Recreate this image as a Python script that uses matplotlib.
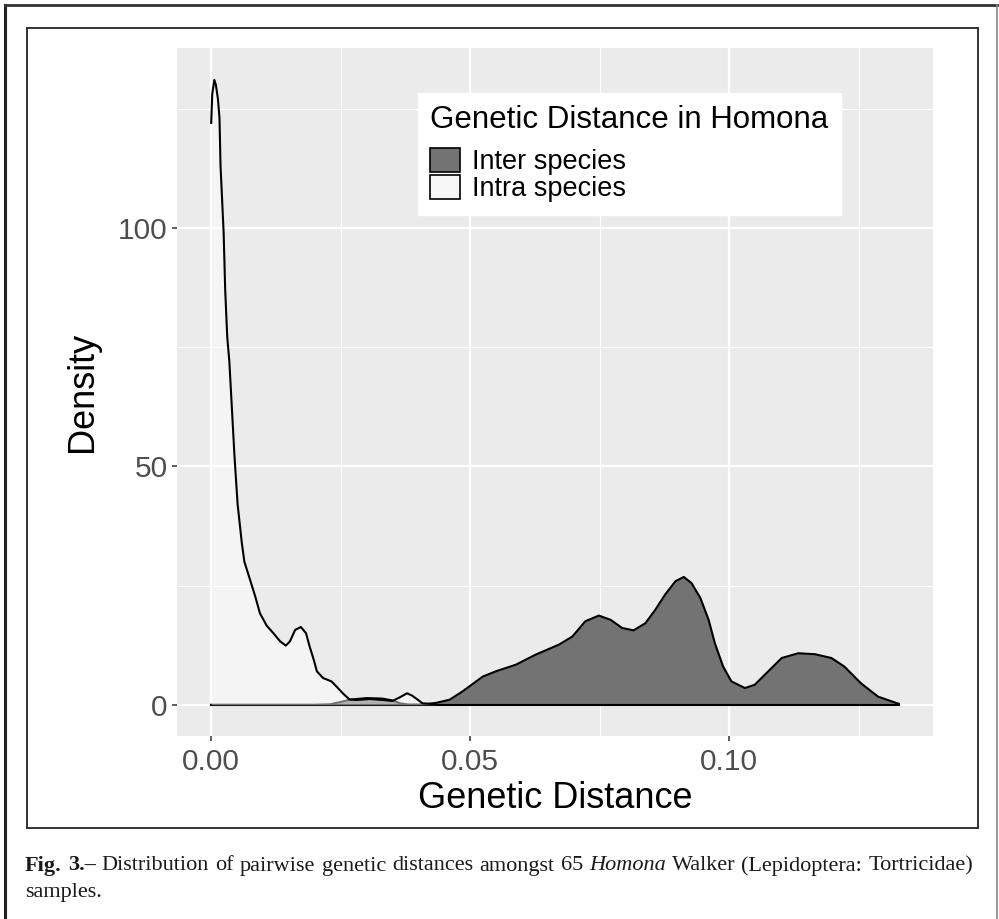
import matplotlib
matplotlib.use("Agg")
import matplotlib.pyplot as plt
from matplotlib.patches import Patch, Rectangle
from matplotlib.lines import Line2D

# density curves
intra_x = [0, 0.0002, 0.0006, 0.0009, 0.0013, 0.0016, 0.0018, 0.0021, 0.0024, 0.0027,
           0.0031, 0.0035, 0.0040, 0.0045, 0.0048, 0.0051, 0.0055, 0.0059, 0.0064, 0.0075,
           0.0085, 0.0094, 0.0107, 0.0120, 0.0133, 0.0144, 0.0152, 0.0162, 0.0173, 0.0183,
           0.0190, 0.0198, 0.0204, 0.0216, 0.0232, 0.0242, 0.0254, 0.0267, 0.0280, 0.0306,
           0.0331, 0.0350, 0.0363, 0.0378, 0.0388, 0.0408, 0.0434]
intra_y = [122, 128, 131, 130, 127, 123, 113, 106, 99, 87,
           77, 72, 62, 52, 47, 42, 38, 34, 30, 26.2,
           22.7, 19.2, 16.6, 15.0, 13.3, 12.4, 13.3, 15.7, 16.3, 15.0,
           12.2, 9.4, 7.0, 5.6, 4.9, 3.8, 2.4, 1.1, 1.0, 1.2,
           1.0, 0.8, 1.5, 2.4, 1.9, 0.3, 0.1]

inter_x = [0, 0.020, 0.023, 0.025, 0.027, 0.030, 0.033, 0.035, 0.0365, 0.038,
           0.040, 0.042, 0.0434, 0.0460, 0.0485, 0.0524, 0.0549, 0.0588, 0.0626, 0.0671,
           0.0697, 0.0722, 0.0748, 0.0771, 0.0793, 0.0815, 0.0838, 0.0857, 0.0876, 0.0896,
           0.0912, 0.0927, 0.0944, 0.0960, 0.0972, 0.0988, 0.1004, 0.1030, 0.1049, 0.1075,
           0.1101, 0.1133, 0.1165, 0.1197, 0.1222, 0.1254, 0.1287, 0.1327]
inter_y = [0, 0, 0.1, 0.6, 1.1, 1.4, 1.3, 0.9, 0.3, 0.05,
           0.05, 0.2, 0.4, 1.05, 2.8, 5.9, 7.0, 8.4, 10.5, 12.6,
           14.3, 17.5, 18.7, 17.8, 16.1, 15.6, 17.1, 19.9, 23.1, 25.9,
           26.8, 25.5, 22.4, 17.8, 12.9, 8.0, 4.9, 3.5, 4.2, 7.0,
           9.8, 10.8, 10.6, 9.8, 8.0, 4.5, 1.7, 0.2]

x_ticks = [0, 0.05, 0.10]
x_labels = ["0.00", "0.05", "0.10"]
y_ticks = [0, 50, 100]
y_labels = ["0", "50", "100"]

W, H = 999, 919
plt.rcParams['font.family'] = ['Liberation Sans', 'DejaVu Sans']

fig = plt.figure(figsize=(W / 100, H / 100), dpi=100)
ax = fig.add_axes([177 / W, 1 - 736 / H, 756 / W, 688 / H])
ax.set_facecolor('#EBEBEB')

ax.fill_between(inter_x, inter_y, color='#737373', lw=0, zorder=2)
ax.plot(inter_x, inter_y, color='black', lw=1.5, zorder=3)
ax.plot([inter_x[0], inter_x[-1]], [inter_y[0], inter_y[0]], color='black', lw=1.5, zorder=3)
ax.fill_between(intra_x, intra_y, color='white', alpha=0.45, lw=0, zorder=4)
ax.plot(intra_x, intra_y, color='black', lw=1.5, zorder=5)

ax.set_xlim(-0.0066, 0.1393)
ax.set_ylim(-6.55, 137.7)
ax.set_xticks(x_ticks)
ax.set_xticklabels(x_labels)
ax.set_yticks(y_ticks)
ax.set_yticklabels(y_labels)
ax.set_xticks([0.025, 0.075, 0.125], minor=True)
ax.set_yticks([25, 75, 125], minor=True)
ax.grid(which='major', color='white', lw=1.6)
ax.grid(which='minor', color='white', lw=0.8)
ax.set_axisbelow(True)
for s in ax.spines.values():
    s.set_visible(False)
ax.tick_params(which='major', length=3.6, width=1.1, color='#333333',
               labelcolor='#4D4D4D', labelsize=21.5)
ax.tick_params(axis='x', pad=5)
ax.tick_params(axis='y', pad=3)
ax.tick_params(which='minor', length=0)
ax.set_xlabel("Genetic Distance", fontsize=26, labelpad=4)
ax.set_ylabel("Density", fontsize=26, labelpad=13)

handles = [Patch(facecolor='#737373', edgecolor='black', lw=1.2, label='Inter species'),
           Patch(facecolor='#F7F7F7', edgecolor='black', lw=1.2, label='Intra species')]
leg = ax.legend(handles=handles, title='Genetic Distance in Homona', title_fontsize=22.5,
                fontsize=19.5, loc='upper left', bbox_to_anchor=(0.3188, 0.9346),
                borderaxespad=0, frameon=True, fancybox=False, facecolor='white',
                edgecolor='white', framealpha=1, borderpad=0.45, handlelength=1.1,
                handleheight=1.0, labelspacing=0.0, handletextpad=0.45, alignment='left')
leg._legend_box.sep = 9
leg.set_zorder(10)


def px(x, y):
    return x / W, 1 - y / H


# frames
fig.add_artist(Line2D([4.7 / W] * 2, [1 - 5 / H, 0], color='#222222', lw=2.2))
fig.add_artist(Line2D([4.7 / W, 997 / W], [1 - 5 / H] * 2, color='#333333', lw=2.0))
fig.add_artist(Line2D([997 / W] * 2, [1 - 5 / H, 0], color='#888888', lw=1.2))
fig.add_artist(Rectangle(px(27, 828), 951 / W, 800 / H, transform=fig.transFigure,
                         fill=False, edgecolor='#222222', lw=1.3))

# caption, first line fitted to the box width
fig.canvas.draw()
rend = fig.canvas.get_renderer()
line1 = [("Fig.", "bold", "normal"), ("3.–", "bold", "normal")]
for w in "Distribution of pairwise genetic distances amongst 65".split():
    line1.append((w, "normal", "normal"))
line1.append(("Homona", "normal", "italic"))
for w in "Walker (Lepidoptera: Tortricidae)".split():
    line1.append((w, "normal", "normal"))

left, right = 25, 973
base = 14.0
texts = []
for word, weight, style in line1:
    t = fig.text(0, 0, word, fontsize=base, family='Liberation Serif',
                 weight=weight, style=style, va='baseline', color='#1a1a1a')
    texts.append(t)
widths = [t.get_window_extent(rend).width for t in texts]
space = 0.25 * base * 100 / 72
k = (right - left) / (sum(widths) + space * (len(texts) - 1))
cap_size = base * k
for t in texts:
    t.set_fontsize(cap_size)
widths = [t.get_window_extent(rend).width for t in texts]
gap = (right - left - sum(widths)) / (len(texts) - 1)
xpos = left
for t, wd in zip(texts, widths):
    t.set_position(px(xpos, 870.5))
    xpos += wd + gap

fig.text(*px(25, 896.5), "samples.", fontsize=cap_size, family='Liberation Serif',
         va='baseline', color='#1a1a1a')

fig.savefig("out.png", dpi=100)
